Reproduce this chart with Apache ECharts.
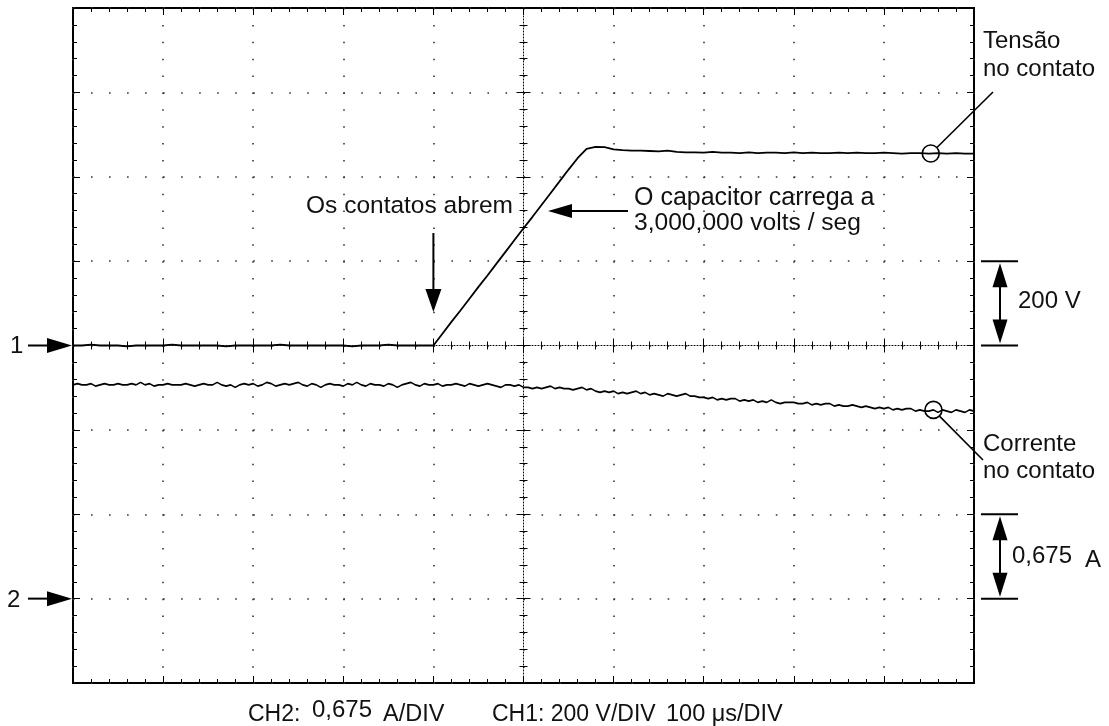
<!DOCTYPE html>
<html><head><meta charset="utf-8">
<script src="https://cdn.jsdelivr.net/npm/echarts@6/dist/echarts.min.js"></script>
<style>html,body{margin:0;padding:0;background:#fff}#c{width:1109px;height:726px}</style>
</head><body><div id="c"></div>
<script>
// ---- data ----
// time in microseconds, relative to the trigger at the screen centre
const timeTicks = { min: -500, max: 500, interval: 100 };      // 100 us/DIV
const ch1Ticks = { min: -800, max: 800, interval: 200 };       // 200 V/DIV, ground at centre
const ch2Ticks = { min: -0.675, max: 4.725, interval: 0.675 }; // 0,675 A/DIV, ground 1 div above bottom

const ch1Start = -500, ch1Step = 10;
const ch1Volts = [
  0,0,2,0,0,0,-2,0,0,0, 0,2,0,0,0,0,0,-2,0,0,
  0,0,0,2,0,0,0,0,0,0, 0,-2,0,0,0,2,0,0,0,0,
  0,28,56,83,111,139,166,194,222,250,278,305,333,361,389,417,444,
  466,471,470,465,463,462,462,461,460,462,459,458,458,457,459,457,457,456,458,456,
  457,457,456,458,456,457,456,456,457,456,457,456,456,457,456,455,456,456,455,456,
  455,456,455,455
];

const ch2Start = -500, ch2Step = 5;
const ch2Amps = [
  1.71,1.72,1.71,1.71,1.72,1.70,1.71,1.72,1.71,1.71,
  1.72,1.71,1.71,1.72,1.71,1.73,1.71,1.72,1.70,1.71,
  1.71,1.72,1.71,1.71,1.71,1.72,1.71,1.70,1.71,1.72,
  1.71,1.71,1.73,1.71,1.70,1.71,1.69,1.71,1.72,1.71,
  1.72,1.70,1.71,1.73,1.72,1.70,1.71,1.72,1.71,1.72,
  1.73,1.71,1.70,1.72,1.71,1.69,1.71,1.72,1.71,1.71,
  1.70,1.72,1.71,1.73,1.71,1.70,1.72,1.71,1.71,1.70,
  1.72,1.71,1.69,1.71,1.72,1.73,1.71,1.70,1.72,1.71,
  1.71,1.72,1.70,1.71,1.71,1.72,1.71,1.70,1.72,1.71,
  1.70,1.71,1.72,1.71,1.70,1.69,1.71,1.71,1.70,1.71,
  1.69,1.69,1.68,1.69,1.68,1.69,1.70,1.68,1.69,1.68,
  1.68,1.67,1.68,1.69,1.67,1.68,1.66,1.65,1.66,1.65,
  1.66,1.64,1.65,1.64,1.65,1.66,1.64,1.65,1.63,1.64,
  1.63,1.62,1.64,1.63,1.62,1.63,1.64,1.62,1.62,1.61,
  1.61,1.60,1.61,1.59,1.60,1.59,1.60,1.60,1.58,1.59,
  1.58,1.59,1.57,1.58,1.57,1.59,1.57,1.56,1.57,1.57,
  1.57,1.56,1.56,1.57,1.55,1.56,1.55,1.56,1.56,1.54,
  1.55,1.54,1.54,1.55,1.54,1.53,1.54,1.53,1.52,1.53,
  1.52,1.53,1.51,1.52,1.51,1.52,1.52,1.50,1.51,1.50,
  1.50,1.51,1.49,1.51,1.50,1.49,1.51,1.50,1.49,1.51,
  1.50
];

// annotation anchors (data units)
const tensaoMark = [452, 455];   // CH1 point circled
const correnteMark = [455, 1.51];// CH2 point circled
const contactsOpen = -100;       // time where contacts open
const ch1ScaleBar = [0, 200];
const ch2ScaleBar = [0, 0.675];

// ---- chart ----
const FONT = '"Liberation Sans", Arial, Helvetica, sans-serif';
const chart = echarts.init(document.getElementById('c'), null, { renderer: 'canvas' });

const ch1Data = ch1Volts.map((v, i) => [ch1Start + i * ch1Step, v]);
const ch2Data = ch2Amps.map((v, i) => [ch2Start + i * ch2Step, v]);

const tickStyle = { color: '#000', width: 1 };
function edgeAxis(base, pos, extra) {
  return Object.assign({
    type: 'value', position: pos, min: base.min, max: base.max, interval: base.interval,
    axisLine: { show: false, onZero: false },
    axisTick: { show: true, inside: true, length: 7, lineStyle: tickStyle },
    minorTick: { show: true, splitNumber: 5, length: 4, lineStyle: tickStyle },
    axisLabel: { show: false },
    splitLine: { show: false }
  }, extra || {});
}
function centreAxis(base, inside, lineShow, zeroIdx) {
  return {
    type: 'value', min: base.min, max: base.max, interval: base.interval,
    axisLine: { show: lineShow, onZero: true, onZeroAxisIndex: zeroIdx,
      lineStyle: { color: '#000', width: 1, type: [1, 2] } },
    axisTick: { show: true, inside: inside, length: 7, lineStyle: tickStyle },
    minorTick: { show: true, splitNumber: 5, length: 4, lineStyle: tickStyle },
    axisLabel: { show: false },
    splitLine: { show: false }
  };
}

const option = {
  animation: false,
  backgroundColor: '#fff',
  grid: { left: 73, top: 8, right: 135, bottom: 43, show: true,
    borderColor: '#000', borderWidth: 2, backgroundColor: 'transparent' },
  xAxis: [
    edgeAxis(timeTicks, 'bottom', { splitLine: { show: true,
      lineStyle: { color: '#333', width: 1.6, type: [1.6, 15.275] } } }),
    edgeAxis(timeTicks, 'top'),
    centreAxis(timeTicks, true, true, 0),
    centreAxis(timeTicks, false, false, 0)
  ],
  yAxis: [
    edgeAxis(ch1Ticks, 'left', { splitLine: { show: true,
      lineStyle: { color: '#333', width: 1.6, type: [1.6, 16.42] } } }),
    edgeAxis(ch2Ticks, 'right'),
    centreAxis(ch1Ticks, true, true, 0),
    centreAxis(ch1Ticks, false, false, 0)
  ],
  series: [
    { name: 'CH1', type: 'line', xAxisIndex: 0, yAxisIndex: 0, data: ch1Data,
      showSymbol: false, symbol: 'none', lineStyle: { color: '#000', width: 1.8 }, z: 5 },
    { name: 'CH2', type: 'line', xAxisIndex: 0, yAxisIndex: 1, data: ch2Data,
      showSymbol: false, symbol: 'none', lineStyle: { color: '#000', width: 1.6 }, z: 5 }
  ]
};
chart.setOption(option);

// ---- annotations ----
const p1 = (d) => chart.convertToPixel({ xAxisIndex: 0, yAxisIndex: 0 }, d);
const p2 = (d) => chart.convertToPixel({ xAxisIndex: 0, yAxisIndex: 1 }, d);

function txt(text, x, y, opts) {
  return { type: 'text', z: 100, style: Object.assign({ text: text, x: x, y: y,
    fontSize: 24, fontFamily: FONT, fill: '#111', align: 'left', verticalAlign: 'middle' }, opts || {}) };
}
function seg(x1, y1, x2, y2, w) {
  return { type: 'line', z: 100, shape: { x1: x1, y1: y1, x2: x2, y2: y2 },
    style: { stroke: '#000', lineWidth: w || 2 } };
}
function tri(points) {
  return { type: 'polygon', z: 100, shape: { points: points }, style: { fill: '#000' } };
}
function circ(cx, cy, r) {
  return { type: 'circle', z: 100, shape: { cx: cx, cy: cy, r: r },
    style: { fill: 'none', stroke: '#000', lineWidth: 1.6 } };
}

const g = [];
// channel ground markers
const y1 = p1([-500, 0])[1];
const y2 = p2([-500, 0])[1];
const xl = p1([-500, 0])[0];
g.push(txt('1', 10, y1 + 1));
g.push(seg(28, y1, 50, y1, 2));
g.push(tri([[xl - 26, y1 - 7.5], [xl - 1, y1], [xl - 26, y1 + 7.5]]));
g.push(txt('2', 7, y2 + 2));
g.push(seg(28, y2, 50, y2, 2));
g.push(tri([[xl - 26, y2 - 7.5], [xl - 1, y2], [xl - 26, y2 + 7.5]]));

// Tensão no contato
const tc = p1(tensaoMark);
g.push(circ(tc[0], tc[1], 8.5));
g.push(seg(tc[0] + 6.2, tc[1] - 6.1, 993, 92, 1.6));
g.push(txt('Tensão', 983, 41.5));
g.push(txt('no contato', 983, 69));

// Corrente no contato
const cc = p2(correnteMark);
g.push(circ(cc[0], cc[1], 8.5));
g.push(seg(cc[0] + 6, cc[1] + 6.2, 983, 460, 1.6));
g.push(txt('Corrente', 983, 444.5));
g.push(txt('no contato', 983, 471.5));

// Os contatos abrem
const ax = p1([contactsOpen, 0])[0];
g.push(txt('Os contatos abrem', 513, 206.5, { align: 'right', fontSize: 24.5 }));
g.push(seg(ax, 233, ax, 291, 2));
g.push(tri([[ax - 8, 289], [ax + 8, 289], [ax, 312]]));

// capacitor
g.push(txt('O capacitor carrega a', 634, 198.5, { fontSize: 25 }));
g.push(txt('3,000,000 volts / seg', 634, 223.5, { fontSize: 24.6 }));
g.push(seg(570, 211, 628, 211, 2));
g.push(tri([[548, 211], [572, 204], [572, 218]]));

// 200 V scale bar
const vb0 = p1([0, ch1ScaleBar[0]])[1], vb1 = p1([0, ch1ScaleBar[1]])[1];
g.push(seg(981, vb0, 1018, vb0, 2));
g.push(seg(981, vb1, 1018, vb1, 2));
g.push(seg(1000, vb1 + 20, 1000, vb0 - 20, 2));
g.push(tri([[992.5, vb1 + 26], [1007.5, vb1 + 26], [1000, vb1 + 2]]));
g.push(tri([[992.5, vb0 - 26], [1007.5, vb0 - 26], [1000, vb0 - 2]]));
g.push(txt('200 V', 1018, (vb0 + vb1) / 2 - 2));

// 0,675 A scale bar
const ab0 = p2([0, ch2ScaleBar[0]])[1], ab1 = p2([0, ch2ScaleBar[1]])[1];
g.push(seg(981, ab0, 1018, ab0, 2));
g.push(seg(981, ab1, 1018, ab1, 2));
g.push(seg(1000, ab1 + 20, 1000, ab0 - 20, 2));
g.push(tri([[992.5, ab1 + 26], [1007.5, ab1 + 26], [1000, ab1 + 2]]));
g.push(tri([[992.5, ab0 - 26], [1007.5, ab0 - 26], [1000, ab0 - 2]]));
g.push(txt('0,675', 1012, 556.5));
g.push(txt('A', 1085, 560.5));

// bottom caption
g.push(txt('CH2:', 248, 714.5, { fontSize: 23 }));
g.push(txt('0,675', 312, 710));
g.push(txt('A/DIV', 383, 714.5, { fontSize: 23.5 }));
g.push(txt('CH1: 200 V/DIV', 492, 714.5, { fontSize: 23 }));
g.push(txt('100 μs/DIV', 666, 714.5, { fontSize: 23.5 }));

chart.setOption({ graphic: { elements: g } });
</script>
</body></html>
